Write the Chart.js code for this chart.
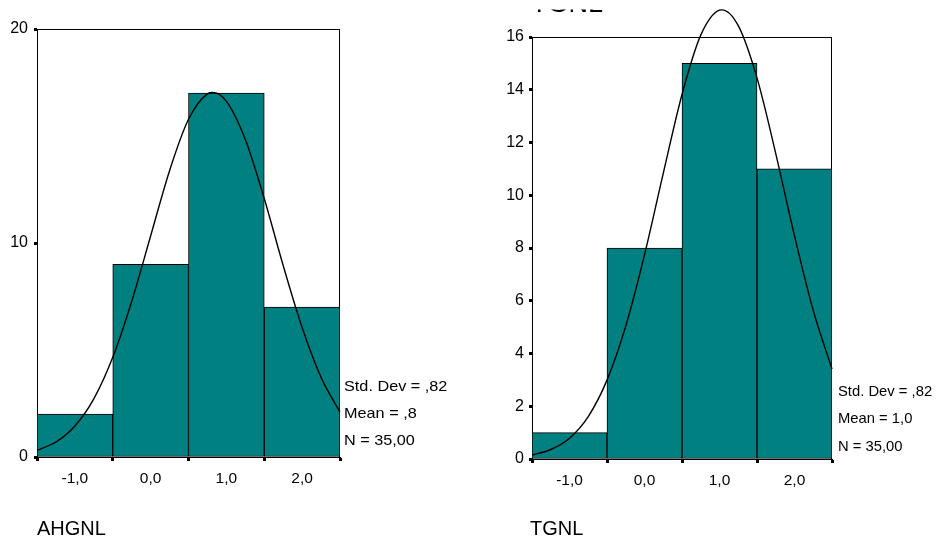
<!DOCTYPE html>
<html><head><meta charset="utf-8">
<script src="https://cdn.jsdelivr.net/npm/chart.js@4.4.1/dist/chart.umd.min.js"></script>
<style>
html,body{margin:0;padding:0;background:#fff;}
#wrap{position:relative;width:944px;height:538px;overflow:hidden;background:#fff;}
canvas{position:absolute;top:0;}
</style></head><body>
<div id="wrap">
<canvas id="c1" width="472" height="538" style="left:0px"></canvas>
<canvas id="c2" width="472" height="538" style="left:472px"></canvas>
</div>
<script>
// ---- data ----
const binCenters = [-1, 0, 1, 2];
const xTickValues = [-1, 0, 1, 2];
const xTickLabels = ['-1,0', '0,0', '1,0', '2,0'];
const ahgnlCounts = [2, 9, 17, 7];
const tgnlCounts = [1, 8, 15, 11];
const ahgnlCurveX = [-1.5, -1.25, -1, -0.75, -0.5, -0.25, 0, 0.25, 0.5, 0.75, 0.82, 1, 1.25, 1.5, 1.75, 2, 2.25, 2.5];
const ahgnlCurve  = [0.31, 0.70, 1.45, 2.72, 4.66, 7.27, 10.33, 13.38, 15.78, 16.97, 17.03, 16.62, 14.84, 12.08, 8.95, 6.05, 3.72, 2.09];
const tgnlCurveX = [-1.5, -1.25, -1, -0.75, -0.5, -0.25, 0, 0.25, 0.5, 0.75, 1, 1.03, 1.25, 1.5, 1.75, 2, 2.25, 2.5];
const tgnlCurve  = [0.15, 0.36, 0.79, 1.61, 2.99, 5.04, 7.74, 10.83, 13.82, 16.07, 17.02, 17.03, 16.43, 14.45, 11.58, 8.46, 5.63, 3.41];
const ahgnlYTicks = [0, 10, 20];
const tgnlYTicks = [0, 2, 4, 6, 8, 10, 12, 14, 16];
const ahgnlStats = ['Std. Dev = ,82', 'Mean = ,8', 'N = 35,00'];
const tgnlStats = ['Std. Dev = ,82', 'Mean = 1,0', 'N = 35,00'];
const ahgnlName = 'AHGNL';
const tgnlName = 'TGNL';

const FONT = "'Liberation Sans', Arial, sans-serif";

function makeHist(canvasId, counts, curveX, curve, yTicks, yMax, stats, name, geo) {
  const textPlugin = {
    id: 'frameText',
    beforeDatasetsDraw(chart) {
      const ctx = chart.ctx, a = chart.chartArea;
      ctx.save();
      ctx.strokeStyle = '#000';
      ctx.lineWidth = 1;
      ctx.strokeRect(Math.round(a.left) + 0.5, Math.round(a.top) + 0.5, Math.round(a.right - a.left) - 1, Math.round(a.bottom - a.top));
      ctx.restore();
    },
    afterDraw(chart) {
      const ctx = chart.ctx;
      ctx.save();
      ctx.fillStyle = '#000';
      ctx.textBaseline = 'alphabetic';
      ctx.textAlign = 'left';
      stats.forEach((s, i) => {
        ctx.save();
        ctx.translate(geo.statsX, geo.statsY[i]);
        ctx.scale(geo.statsScale, 1);
        ctx.font = geo.statsFont + 'px ' + FONT;
        ctx.fillText(s, 0, 0);
        ctx.restore();
      });
      ctx.font = '20px ' + FONT;
      ctx.fillText(name, geo.nameX, 535);
      if (geo.topTitle) {
        // the chart title sits above the visible area; only its lowest strip shows
        ctx.save();
        ctx.beginPath();
        ctx.rect(0, geo.topTitle.clipTop, chart.width, 20);
        ctx.clip();
        ctx.font = '27px ' + FONT;
        ctx.fillText(name, geo.topTitle.x, geo.topTitle.y);
        ctx.restore();
      }
      ctx.restore();
    }
  };
  return new Chart(document.getElementById(canvasId), {
    type: 'bar',
    data: {
      datasets: [
        {
          type: 'line',
          data: curveX.map((x, i) => ({ x: x, y: curve[i] })),
          borderColor: '#000',
          borderWidth: 1.4,
          pointRadius: 0,
          fill: false,
          cubicInterpolationMode: 'monotone',
          clip: false,
          order: 0
        },
        {
          type: 'bar',
          data: binCenters.map((x, i) => ({ x: x, y: counts[i] })),
          backgroundColor: '#008080',
          borderColor: '#000',
          borderWidth: 1,
          borderSkipped: false,
          barPercentage: 1,
          categoryPercentage: 1,
          order: 1
        }
      ]
    },
    options: {
      responsive: false,
      animation: false,
      devicePixelRatio: 1,
      layout: { padding: { left: 0, top: geo.padTop, right: geo.padRight, bottom: 0 } },
      plugins: { legend: { display: false }, tooltip: { enabled: false }, title: { display: false } },
      scales: {
        x: {
          type: 'linear',
          min: -1.5, max: 2.5,
          offset: false,
          afterBuildTicks: s => { s.ticks = xTickValues.map(v => ({ value: v })); },
          afterFit: s => { s.height = geo.xAxisHeight; },
          ticks: {
            autoSkip: false, maxRotation: 0, padding: 8,
            color: '#000', font: { family: FONT, size: 15.5 },
            callback: (v) => { const k = xTickValues.indexOf(v); return k >= 0 ? xTickLabels[k] : ''; }
          },
          grid: { display: true, drawOnChartArea: false, drawTicks: true, tickLength: 4, tickWidth: 3, tickColor: '#000', color: '#000' },
          border: { display: true, color: '#000', width: 1 }
        },
        y: {
          type: 'linear',
          min: 0, max: yMax,
          afterBuildTicks: s => { s.ticks = yTicks.map(v => ({ value: v })); },
          afterFit: s => { s.width = geo.yAxisWidth; },
          ticks: { padding: geo.yPad, color: '#000', font: { family: FONT, size: 16 }, callback: v => String(v) },
          grid: { display: true, drawOnChartArea: false, drawTicks: true, tickLength: 3, tickWidth: 3, tickColor: '#000', color: '#000' },
          border: { display: true, color: '#000', width: 1 }
        }
      }
    },
    plugins: [textPlugin]
  });
}

makeHist('c1', ahgnlCounts, ahgnlCurveX, ahgnlCurve, ahgnlYTicks, 20, ahgnlStats, ahgnlName, {
  yAxisWidth: 37, padTop: 29, padRight: 132, xAxisHeight: 81, yPad: 6,
  statsX: 344, statsY: [391, 418, 445], statsScale: 1.12, statsFont: 14.5,
  nameX: 37
});
makeHist('c2', tgnlCounts, tgnlCurveX, tgnlCurve, tgnlYTicks, 16, tgnlStats, tgnlName, {
  yAxisWidth: 60, padTop: 37, padRight: 112, xAxisHeight: 79, yPad: 5,
  statsX: 366, statsY: [396, 423, 451], statsScale: 1.02, statsFont: 14.5,
  nameX: 58, topTitle: { x: 59, y: 12, clipTop: 9.5 }
});
</script>
</body></html>
